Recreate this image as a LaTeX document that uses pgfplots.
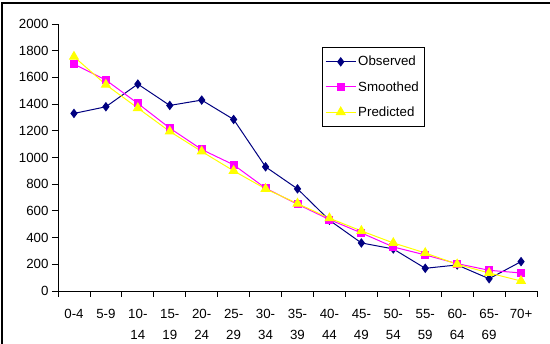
\documentclass[border=0pt]{standalone}
\usepackage{fontspec}
\setmainfont{Liberation Sans}
\usepackage{pgfplots}
\pgfplotsset{compat=1.18}
\definecolor{obs}{RGB}{0,0,128}
\definecolor{smo}{RGB}{255,0,255}
\definecolor{pre}{RGB}{255,255,0}
\begin{document}
\begin{tikzpicture}
\useasboundingbox (0pt,0pt) rectangle (550pt,344pt);
\draw[line width=1.2pt] (2pt,0pt) -- (2pt,341pt) -- (550pt,341pt);
\begin{axis}[
  at={(58pt,53pt)}, anchor=south west,
  scale only axis, width=479pt, height=267pt,
  xmin=-0.5, xmax=14.5, ymin=0, ymax=2000,
  axis lines*=left,
  axis line style={line width=0.8pt},
  tick align=outside,
  major tick length=6pt,
  tick style={black, line width=0.8pt},
  ytick={0,200,...,2000},
  xtick={-0.5,0.5,...,14.5},
  xticklabels={},
  extra x ticks={0,1,...,14},
  extra x tick labels={0-4,5-9,10-\\[3pt]14,15-\\[3pt]19,20-\\[3pt]24,25-\\[3pt]29,30-\\[3pt]34,35-\\[3pt]39,40-\\[3pt]44,45-\\[3pt]49,50-\\[3pt]54,55-\\[3pt]59,60-\\[3pt]64,65-\\[3pt]69,70+},
  extra x tick style={major tick length=0pt},
  xticklabel style={font=\fontsize{13.3}{18}\selectfont, align=center, anchor=north, yshift=-15pt},
  yticklabel style={font=\fontsize{13.3}{15}\selectfont},
  /pgf/number format/assume math mode=true,
  scaled y ticks=false,
  y tick label style={/pgf/number format/1000 sep={}},
  legend style={at={(rel axis cs:0.551,0.914)}, anchor=north west, draw=black, line width=0.6pt,
    font=\fontsize{13.3}{15}\selectfont, row sep=10pt, inner xsep=3pt, inner ysep=7pt, cells={anchor=west}},
  legend image code/.code={\draw[mark repeat=2,mark phase=2,#1] plot coordinates {(0pt,0pt) (15pt,0pt) (30pt,0pt)};},
  legend cell align=left,
]
\addplot[color=obs, line width=1pt, mark=diamond*, mark size=4pt, mark options={fill=obs, draw=obs}]
  coordinates {(0,1330)(1,1380)(2,1550)(3,1390)(4,1430)(5,1285)(6,930)(7,765)(8,530)(9,360)(10,315)(11,170)(12,195)(13,92)(14,220)};
\addlegendentry{Observed}
\addplot[color=smo, line width=1pt, mark=square*, mark size=3.5pt, mark options={fill=smo, draw=smo}]
  coordinates {(0,1700)(1,1580)(2,1405)(3,1220)(4,1060)(5,945)(6,770)(7,650)(8,535)(9,435)(10,330)(11,270)(12,205)(13,155)(14,135)};
\addlegendentry{Smoothed}
\addplot[color=pre, line width=1pt, mark=triangle*, mark size=5pt, mark options={fill=pre, draw=pre}]
  coordinates {(0,1755)(1,1545)(2,1370)(3,1195)(4,1045)(5,900)(6,765)(7,655)(8,545)(9,450)(10,360)(11,285)(12,200)(13,135)(14,75)};
\addlegendentry{Predicted}
\end{axis}
\end{tikzpicture}
\end{document}
